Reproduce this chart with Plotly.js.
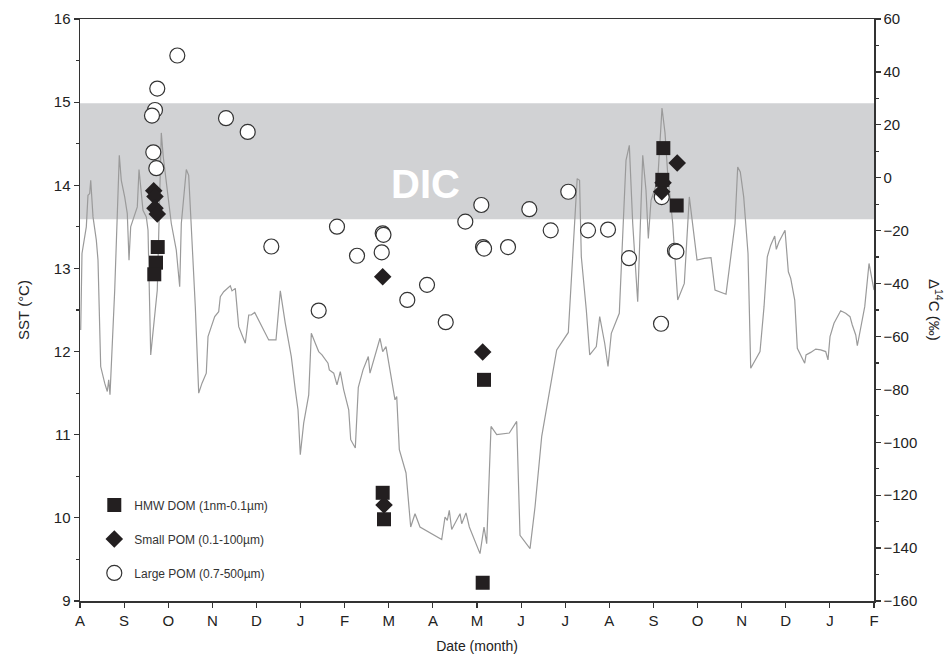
<!DOCTYPE html>
<html>
<head>
<meta charset="utf-8">
<script src="https://cdn.plot.ly/plotly-3.0.1.min.js"></script>
<style>html,body{margin:0;padding:0;background:#fff;}#chart{width:946px;height:657px;}</style>
</head>
<body>
<div id="chart"></div>
<script>
// Month tick labels (Aug of year 1 to Feb of year 3)
const monthLabels = ["A","S","O","N","D","J","F","M","A","M","J","J","A","S","O","N","D","J","F"];

// SST record (x in months since start of August, y in °C)
const sstMonth = [0.016,0.045,0.143,0.181,0.220,0.243,0.295,0.370,0.408,0.469,0.560,0.619,0.651,0.680,0.787,0.846,0.891,0.936,1.013,1.072,1.111,1.149,1.224,1.299,1.338,1.390,1.428,1.503,1.542,1.603,1.678,1.752,1.791,1.843,1.888,1.979,2.070,2.183,2.260,2.297,2.358,2.410,2.464,2.523,2.614,2.691,2.766,2.863,2.902,2.977,3.054,3.144,3.181,3.258,3.333,3.407,3.446,3.521,3.598,3.688,3.747,3.825,3.883,3.961,4.051,4.165,4.278,4.443,4.541,4.654,4.790,4.881,4.942,4.994,5.071,5.185,5.244,5.334,5.411,5.486,5.561,5.622,5.652,5.752,5.826,5.901,5.978,6.092,6.137,6.241,6.309,6.416,6.536,6.574,6.801,6.862,6.937,7.141,7.180,7.239,7.391,7.497,7.595,7.708,8.200,8.275,8.327,8.372,8.427,8.615,8.653,8.751,8.826,8.955,9.068,9.159,9.220,9.318,9.447,9.733,9.900,9.975,10.202,10.315,10.467,10.807,11.070,11.271,11.325,11.365,11.478,11.555,11.705,11.782,11.895,11.970,12.045,12.226,12.378,12.453,12.530,12.643,12.757,12.831,12.884,12.945,13.097,13.194,13.262,13.323,13.437,13.550,13.700,13.813,13.926,13.988,14.153,14.305,14.396,14.645,14.849,14.910,14.969,15.046,15.144,15.205,15.416,15.507,15.581,15.658,15.749,15.785,15.847,15.983,16.058,16.112,16.203,16.262,16.429,16.459,16.565,16.679,16.792,16.905,16.957,17.003,17.093,17.245,17.358,17.456,17.508,17.586,17.622,17.699,17.790,17.887,18.000];
const sstValue = [12.26,13.18,13.50,13.88,13.90,14.06,13.62,13.34,13.10,11.82,11.62,11.52,11.66,11.48,12.74,13.74,14.36,14.06,13.86,13.66,13.10,13.50,13.62,13.74,14.19,13.94,13.70,13.62,13.46,11.96,12.34,12.74,13.54,14.63,14.34,13.90,13.54,13.22,12.78,13.54,13.94,14.19,14.12,13.54,12.54,11.50,11.62,11.74,12.18,12.30,12.42,12.48,12.66,12.72,12.76,12.79,12.73,12.76,12.30,12.18,12.10,12.44,12.44,12.47,12.38,12.26,12.14,12.14,12.73,12.34,11.94,11.54,11.30,10.76,11.14,11.48,12.22,12.10,12.00,11.96,11.90,11.86,11.78,11.74,11.60,11.76,11.54,11.30,10.94,10.84,11.57,11.78,11.94,11.74,12.16,12.00,12.06,11.42,11.46,10.82,10.54,9.89,10.05,9.89,9.74,10.01,9.97,10.09,9.86,10.05,9.93,10.06,9.89,9.73,9.57,9.89,9.69,11.10,11.00,11.02,11.16,9.79,9.63,10.13,10.98,12.02,12.23,14.08,14.06,13.14,12.50,11.96,12.06,12.42,12.10,11.82,12.22,12.46,14.30,14.48,13.54,12.60,14.36,13.94,13.36,13.82,14.06,14.93,14.63,14.14,13.54,12.62,12.82,13.86,13.38,13.10,13.12,13.13,12.74,12.69,13.54,14.22,14.16,13.86,13.18,11.80,12.00,12.54,13.14,13.28,13.39,13.23,13.32,13.46,12.96,12.88,12.62,12.04,11.86,11.96,11.99,12.03,12.02,12.00,11.90,12.18,12.34,12.49,12.46,12.42,12.32,12.20,12.07,12.30,12.54,13.06,12.74];

// HMW DOM (1nm-0.1µm) Δ14C (‰)
const domMonth = [1.762,1.723,1.684,6.862,6.892,9.159,9.129,13.224,13.201,13.527];
const domD14C  = [-26.2,-32.1,-36.5,-119.1,-129.1,-76.4,-153.1,11.2,-0.8,-10.5];

// Small POM (0.1-100µm) Δ14C (‰)
const smallMonth = [1.671,1.700,1.700,1.752,6.862,6.892,9.129,13.539,13.217,13.188];
const smallD14C  = [-4.9,-7.1,-11.5,-13.7,-37.4,-123.7,-65.9,5.6,-1.9,-5.3];

// Large POM (0.7-500µm) Δ14C (‰)
const largeMonth = [2.206,1.752,1.700,1.632,1.662,1.730,3.310,3.802,4.337,5.411,5.826,6.280,6.862,6.880,6.840,7.420,7.867,8.291,8.735,9.098,9.136,9.160,9.703,10.186,10.671,11.070,11.517,11.970,12.446,13.172,13.188,13.489,13.520];
const largeD14C  = [46.2,33.7,25.6,23.5,9.6,3.6,22.5,17.3,-26.0,-50.2,-18.5,-29.5,-21.0,-21.6,-28.2,-46.2,-40.5,-54.6,-16.6,-10.3,-26.2,-26.8,-26.2,-11.9,-19.9,-5.3,-19.9,-19.6,-30.4,-55.2,-7.3,-27.6,-27.9];

// DIC Δ14C range (‰)
const dicRange = [-15.7, 28.2];

const axisColor = "#333333";
const fontFam = "Liberation Sans, Arial, sans-serif";

const traces = [
  {x: sstMonth, y: sstValue, type: "scatter", mode: "lines", yaxis: "y",
   line: {color: "#9a9a9a", width: 1.2}, showlegend: false, hoverinfo: "skip"},
  {x: largeMonth, y: largeD14C, type: "scatter", mode: "markers", yaxis: "y2",
   name: "Large POM (0.7-500µm)", legendgroup: "c", legendrank: 3,
   marker: {symbol: "circle", size: 15, color: "#ffffff", line: {color: "#333333", width: 1.2}}},
  {x: smallMonth, y: smallD14C, type: "scatter", mode: "markers", yaxis: "y2",
   name: "Small POM (0.1-100µm)", legendgroup: "b", legendrank: 2,
   marker: {symbol: "diamond", size: 13.5, color: "#231f20", line: {width: 0}}},
  {x: domMonth, y: domD14C, type: "scatter", mode: "markers", yaxis: "y2",
   name: "HMW DOM (1nm-0.1µm)", legendgroup: "a", legendrank: 1,
   marker: {symbol: "square", size: 14, color: "#231f20", line: {width: 0}}}
];

const layout = {
  width: 946, height: 657,
  margin: {l: 80, r: 72, t: 19, b: 56},
  paper_bgcolor: "#ffffff", plot_bgcolor: "#ffffff",
  font: {family: fontFam, color: "#222222", size: 15},
  showlegend: true,
  legend: {x: 0.018, y: 0.19, xanchor: "left", yanchor: "top",
           bgcolor: "rgba(0,0,0,0)", borderwidth: 0,
           traceorder: "grouped", tracegroupgap: 15,
           font: {family: fontFam, size: 12, color: "#333333"}},
  xaxis: {range: [0, 18], tickmode: "array",
          tickvals: monthLabels.map((_, i) => i), ticktext: monthLabels,
          showline: true, linecolor: axisColor, linewidth: 1.5, mirror: true,
          ticks: "outside", ticklen: 5, tickwidth: 1.2, tickcolor: axisColor,
          showgrid: false, zeroline: false,
          tickfont: {size: 15, color: "#222"},
          title: {text: "Date (month)", font: {size: 14, color: "#222"}, standoff: 13}},
  yaxis: {range: [9, 16], dtick: 1, tick0: 9,
          showline: true, linecolor: axisColor, linewidth: 1.5,
          ticks: "outside", ticklen: 5, tickwidth: 1.2, tickcolor: axisColor,
          minor: {dtick: 0.5, ticks: "outside", ticklen: 3, tickcolor: axisColor, showgrid: false},
          showgrid: false, zeroline: false,
          tickfont: {size: 15, color: "#222"},
          title: {text: "SST (°C)", font: {size: 15, color: "#222"}, standoff: 20}},
  yaxis2: {range: [-160, 60], dtick: 20, tick0: -160, overlaying: "y", side: "right",
           showline: true, linecolor: axisColor, linewidth: 1.5,
           ticks: "outside", ticklen: 5, tickwidth: 1.2, tickcolor: axisColor,
           minor: {dtick: 10, ticks: "outside", ticklen: 3, tickcolor: axisColor, showgrid: false},
           showgrid: false, zeroline: false,
           tickfont: {size: 15, color: "#222"}},
  shapes: [
    {type: "rect", xref: "paper", x0: 0, x1: 1, yref: "y2", y0: dicRange[0], y1: dicRange[1],
     fillcolor: "#d1d2d4", line: {width: 0}, layer: "below"}
  ],
  annotations: [
    {text: "<b>DIC</b>", xref: "paper", yref: "paper", x: (425 - 80) / 794, y: (601 - 160) / 582,
     showarrow: false, font: {family: fontFam, size: 40, color: "#ffffff"}},
    {text: "Δ<sup>14</sup>C (‰)", xref: "paper", yref: "paper", x: 1 + (936 - 874) / 794, y: 0.5,
     xanchor: "center", yanchor: "middle",
     showarrow: false, textangle: 90, font: {family: fontFam, size: 15, color: "#222"}}
  ]
};

Plotly.newPlot("chart", traces, layout, {displayModeBar: false, staticPlot: true});
</script>
</body>
</html>
